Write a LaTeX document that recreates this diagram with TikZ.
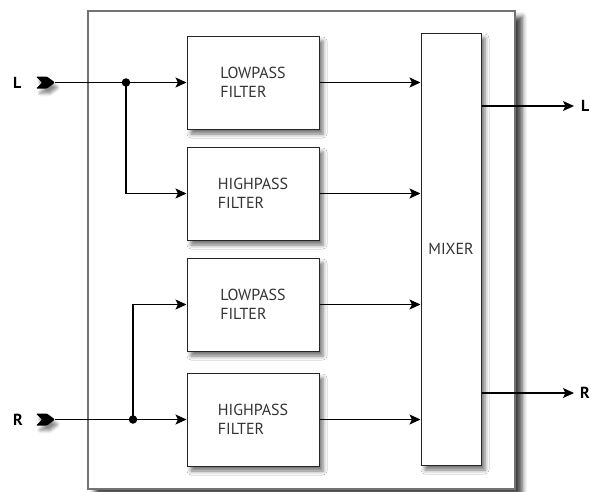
\documentclass[tikz,border=0pt]{standalone}
\usepackage{fontspec}
\setmainfont{PT Sans}
\usetikzlibrary{arrows.meta,shadows.blur,calc}
\begin{document}
\begin{tikzpicture}[x=1pt,y=-1pt,
  frame/.style={draw=black!55, line width=1.6pt, fill=white,
    blur shadow={shadow xshift=7pt, shadow yshift=-6pt, shadow blur radius=5pt, shadow opacity=75}},
  block/.style={draw=black!85, line width=1pt, fill=white, inner sep=0pt,
    font=\fontsize{16}{19}\selectfont, text=black!80, align=left,
    blur shadow={shadow xshift=4pt, shadow yshift=-5pt, shadow blur radius=4pt, shadow opacity=55}},
  filterbox/.style={block, minimum width=132pt, minimum height=93pt},
  wire/.style={draw=black, line width=1.1pt},
  flow/.style={wire, -{Stealth[length=11pt,width=10pt,inset=2.5pt]}},
  chevron/.style={fill=black, rounded corners=1pt,
    blur shadow={shadow xshift=3pt, shadow yshift=-5pt, shadow blur radius=3pt, shadow opacity=45}},
  iolabel/.style={font=\fontsize{16}{18}\selectfont\bfseries, inner sep=0pt, anchor=west},
  junction/.style={circle, fill=black, inner sep=0pt, minimum size=8.5pt}
]
\useasboundingbox (0,0) rectangle (591,491);

% enclosing frame
\node[frame, minimum width=427pt, minimum height=478pt, inner sep=0pt] (frame) at (301.5,250) {};

% filter stages and mixer
\node[filterbox] (lp1) at (253,82.5)  {LOWPASS\\FILTER};
\node[filterbox] (hp1) at (253,193.5) {HIGHPASS\\FILTER};
\node[filterbox] (lp2) at (253,304.5) {LOWPASS\\FILTER};
\node[filterbox] (hp2) at (253,419.5) {HIGHPASS\\FILTER};
\node[block, minimum width=60pt, minimum height=432pt] (mix) at (451,249) {MIXER};

% inputs: bold chevron markers
\coordinate (Lin) at (55,82.5);
\coordinate (Rin) at (55,419.5);
\foreach \p in {Lin,Rin}
  \fill[chevron] ($(\p)+(-19,-6)$) -- ($(\p)+(-8,-6)$) -- (\p) -- ($(\p)+(-8,6)$)
    -- ($(\p)+(-19,6)$) -- ($(\p)+(-13,0)$) -- cycle;
\node[iolabel] (Llab) at (13,82.5) {L};
\node[iolabel] (Rlab) at (13,419.5) {R};

% input splits
\draw[flow] (Lin) -- (lp1.west);
\node[junction] (jL) at (126,82.5) {};
\draw[flow] (jL.center) |- (hp1.west);

\draw[flow] (Rin) -- (hp2.west);
\node[junction] (jR) at (133,419.5) {};
\draw[flow] (jR.center) |- (lp2.west);

% filters into the mixer
\foreach \f in {lp1,hp1,lp2,hp2}
  \draw[flow] (\f.east) -- (\f.east -| mix.west);

% outputs
\coordinate (Lout) at (574,106);
\coordinate (Rout) at (574,393);
\draw[flow] (Lout -| mix.east) -- (Lout);
\draw[flow] (Rout -| mix.east) -- (Rout);
\node[iolabel] (Lolab) at (581,106) {L};
\node[iolabel] (Rolab) at (580,393) {R};
\end{tikzpicture}
\end{document}
